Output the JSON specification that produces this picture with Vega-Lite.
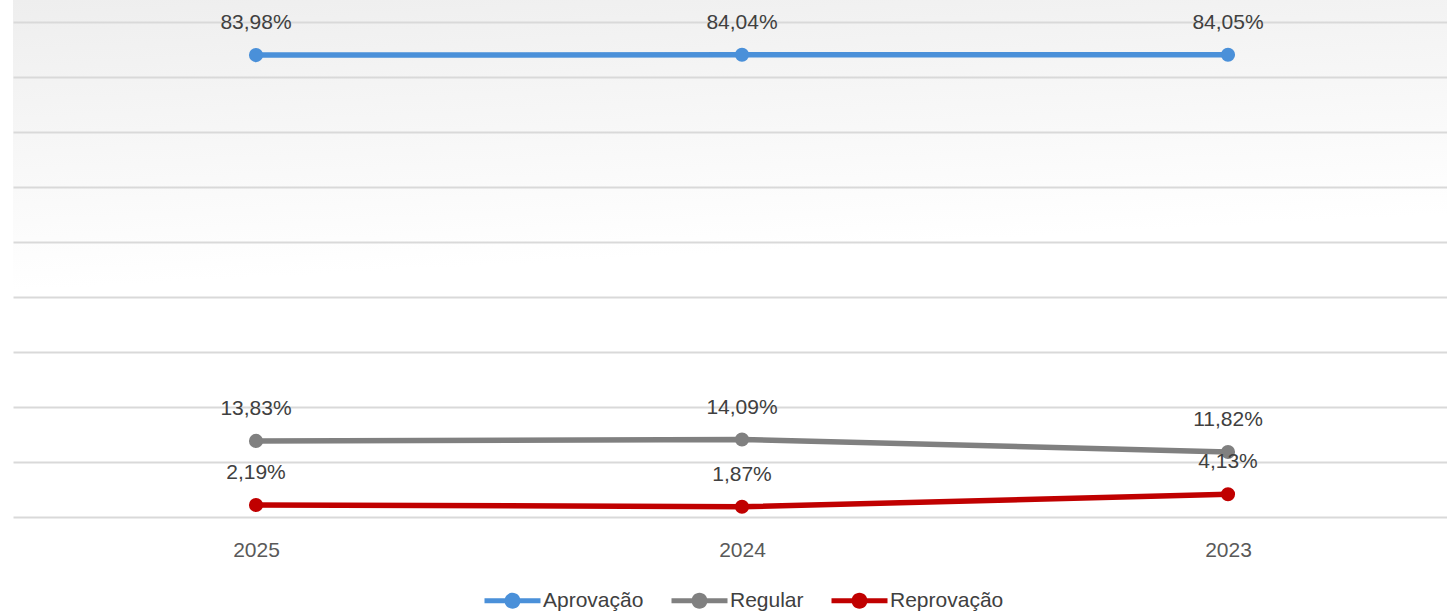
{
  "$schema": "https://vega.github.io/schema/vega-lite/v6.json",
  "width": 1458,
  "height": 517,
  "autosize": {"type": "none"},
  "padding": {"left": 13, "top": 0, "right": 0, "bottom": 94},
  "background": "#ffffff",
  "config": {
    "locale": {"number": {"decimal": ",", "thousands": ".", "grouping": [3], "currency": ["", ""]}},
    "view": {"stroke": null, "fill": {"gradient": "linear", "x1": 0, "y1": 0, "x2": 0.15, "y2": 1, "stops": [{"offset": 0, "color": "#eeeeee"}, {"offset": 0.55, "color": "#ffffff"}]}},
    "font": "Liberation Sans"
  },
  "data": {"values": [
    {"ano": "2025", "serie": "Aprovação", "v": 0.8398},
    {"ano": "2024", "serie": "Aprovação", "v": 0.8404},
    {"ano": "2023", "serie": "Aprovação", "v": 0.8405},
    {"ano": "2025", "serie": "Regular", "v": 0.1383},
    {"ano": "2024", "serie": "Regular", "v": 0.1409},
    {"ano": "2023", "serie": "Regular", "v": 0.1182},
    {"ano": "2025", "serie": "Reprovação", "v": 0.0219},
    {"ano": "2024", "serie": "Reprovação", "v": 0.0187},
    {"ano": "2023", "serie": "Reprovação", "v": 0.0413}
  ]},
  "encoding": {
    "x": {"field": "ano", "type": "ordinal", "sort": ["2025", "2024", "2023"],
      "scale": {"type": "point", "padding": 0.5},
      "axis": {"title": null, "domain": false, "ticks": false, "grid": false, "labelPadding": 22, "labelFontSize": 21, "labelColor": "#595959", "labelAngle": 0, "labelFont": "Liberation Sans"}},
    "y": {"field": "v", "type": "quantitative",
      "scale": {"domain": [0, 0.94], "nice": false, "zero": true},
      "axis": {"title": null, "labels": false, "ticks": false, "domain": false, "grid": true, "gridColor": "#d9d9d9", "gridWidth": 2, "values": [0, 0.1, 0.2, 0.3, 0.4, 0.5, 0.6, 0.7, 0.8, 0.9]}},
    "color": {"field": "serie", "type": "nominal",
      "scale": {"domain": ["Aprovação", "Regular", "Reprovação"], "range": ["#4a90d9", "#808080", "#c00000"]},
      "legend": {"title": null, "orient": "none", "direction": "horizontal", "legendX": 471, "legendY": 590,
        "symbolType": "M-1,-0.25 L4.6,-0.25 L4.6,0.25 L-1,0.25 Z M1,0 A0.8,0.8 0 1,1 2.6,0 A0.8,0.8 0 1,1 1,0 Z",
        "symbolSize": 400, "symbolStrokeWidth": 0, "labelOffset": 38, "columnPadding": 27,
        "labelFont": "Liberation Sans", "labelFontSize": 21, "labelColor": "#404040",
        "encode": {"symbols": {"update": {"fill": {"scale": "color", "field": "value"}, "stroke": {"value": "transparent"}, "opacity": {"value": 1}}}}}}
  },
  "layer": [
    {"mark": {"type": "line", "strokeWidth": 5.5, "point": {"filled": true, "size": 200, "opacity": 1}}},
    {"mark": {"type": "text", "dy": -32, "fontSize": 21, "color": "#404040", "font": "Liberation Sans"},
     "encoding": {"text": {"field": "v", "type": "quantitative", "format": ".2%"}, "color": {"value": "#404040"}}}
  ]
}
